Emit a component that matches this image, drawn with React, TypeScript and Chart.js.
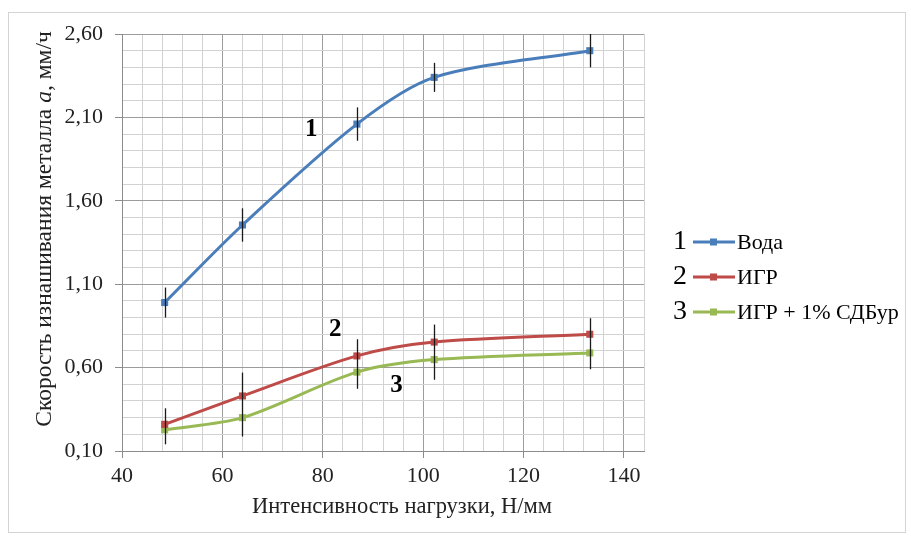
import React, { useEffect, useRef } from 'react';
import { Chart, registerables } from 'chart.js';

Chart.register(...registerables);

// ---- data ----
const loads = [48.5, 64, 86.8, 102.2, 133.2];
const waterRate = [0.99, 1.455, 2.06, 2.34, 2.5];
const igrRate = [0.26, 0.43, 0.67, 0.753, 0.8];
const igrSdbRate = [0.227, 0.3, 0.573, 0.648, 0.688];
const waterErr = [0.09, 0.1, 0.1, 0.087, 0.1];
const lowerErrLow = [0.14, 0.187, 0.473, 0.527, 0.59];
const lowerErrHigh = [0.356, 0.57, 0.77, 0.858, 0.896];

const seriesNames = ['Вода', 'ИГР', 'ИГР + 1% СДБур'];
const seriesNumbers = ['1', '2', '3'];
const seriesColors = ['#4A7EBB', '#BE4B48', '#98B954'];

const xTickLabels = [40, 60, 80, 100, 120, 140];
const yTickLabels = ['0,10', '0,60', '1,10', '1,60', '2,10', '2,60'];

const curveLabelText = ['1', '2', '3'];
const curveLabelX = [77.7, 82.5, 94.7];
const curveLabelY = [2.03, 0.83, 0.49];

const xTitle = 'Интенсивность нагрузки, Н/мм';
const yTitleParts = ['Скорость изнашивания металла ', 'a', ', мм/ч'];

const SERIF = '"Liberation Serif", "Times New Roman", serif';

const X_MIN = 40;
const X_MAX = 144;
const X_MINOR = 4;
const Y_MIN = 0.1;
const Y_MAX = 2.6;
const Y_MINOR = 0.1;

const isMajorX = (v: number) => xTickLabels.some((t) => Math.abs(t - v) < 1e-6);
const yMajorIndex = (v: number) =>
  yTickLabels.findIndex((t) => Math.abs(parseFloat(t.replace(',', '.')) - v) < 1e-6);

const framePlugin = {
  id: 'frame',
  beforeDraw(chart: any) {
    const c = chart.ctx;
    c.save();
    c.fillStyle = '#ffffff';
    c.fillRect(0, 0, chart.width, chart.height);
    c.strokeStyle = '#d4d4d4';
    c.lineWidth = 1;
    c.strokeRect(8.5, 12.5, 897, 520);
    c.restore();
  },
};

const errorBarPlugin = {
  id: 'errorBars',
  afterDatasetsDraw(chart: any) {
    const c = chart.ctx;
    const xs = chart.scales.x;
    const ys = chart.scales.y;
    c.save();
    c.strokeStyle = '#1a1a1a';
    c.lineWidth = 1.3;
    loads.forEach((x, i) => {
      const px = Math.round(xs.getPixelForValue(x)) + 0.5;
      c.beginPath();
      c.moveTo(px, ys.getPixelForValue(waterRate[i] + waterErr[i]));
      c.lineTo(px, ys.getPixelForValue(waterRate[i] - waterErr[i]));
      c.stroke();
      c.beginPath();
      c.moveTo(px, ys.getPixelForValue(lowerErrHigh[i]));
      c.lineTo(px, ys.getPixelForValue(lowerErrLow[i]));
      c.stroke();
    });
    c.restore();
  },
};

const annotationPlugin = {
  id: 'annotations',
  afterDraw(chart: any) {
    const c = chart.ctx;
    const xs = chart.scales.x;
    const ys = chart.scales.y;
    c.save();
    // curve numbers
    c.fillStyle = '#000';
    c.font = `bold 25px ${SERIF}`;
    c.textAlign = 'center';
    c.textBaseline = 'middle';
    curveLabelText.forEach((t, i) => {
      c.fillText(t, xs.getPixelForValue(curveLabelX[i]), ys.getPixelForValue(curveLabelY[i]));
    });

    // x title
    c.font = `22.5px ${SERIF}`;
    c.fillStyle = '#222';
    c.fillText(xTitle, 402, 507);

    // y title (rotated, italic "a")
    c.translate(45, 229);
    c.rotate(-Math.PI / 2);
    const fonts = [`23.5px ${SERIF}`, `italic 23.5px ${SERIF}`, `23.5px ${SERIF}`];
    let total = 0;
    const widths = yTitleParts.map((p, i) => {
      c.font = fonts[i];
      const w = c.measureText(p).width;
      total += w;
      return w;
    });
    let pos = -total / 2;
    c.textAlign = 'left';
    yTitleParts.forEach((p, i) => {
      c.font = fonts[i];
      c.fillText(p, pos, 0);
      pos += widths[i];
    });
    c.setTransform(1, 0, 0, 1, 0, 0);

    // legend
    c.textBaseline = 'middle';
    seriesNames.forEach((name, i) => {
      const y = 242 + 35 * i;
      c.fillStyle = '#000';
      c.font = `28px ${SERIF}`;
      c.textAlign = 'center';
      c.fillText(seriesNumbers[i], 680, y);
      c.strokeStyle = seriesColors[i];
      c.lineWidth = 3;
      c.beginPath();
      c.moveTo(693, y);
      c.lineTo(735, y);
      c.stroke();
      c.fillStyle = seriesColors[i];
      c.fillRect(710, y - 3.5, 7, 7);
      c.fillStyle = '#000';
      c.font = `22px ${SERIF}`;
      c.textAlign = 'left';
      c.fillText(name, 737, y + 1);
    });
    c.restore();
  },
};

export default function App() {
  const ref = useRef<HTMLCanvasElement | null>(null);

  useEffect(() => {
    if (!ref.current) return;
    const seriesValues = [waterRate, igrRate, igrSdbRate];
    const chart = new Chart(ref.current, {
      type: 'line',
      data: {
        datasets: seriesNames.map((name, si) => ({
          label: name,
          data: loads.map((x, i) => ({ x, y: seriesValues[si][i] })),
          borderColor: seriesColors[si],
          backgroundColor: seriesColors[si],
          borderWidth: 3,
          tension: 0.3,
          pointStyle: 'rect',
          pointRadius: 5,
          pointBorderWidth: 0,
          pointBackgroundColor: seriesColors[si],
          fill: false,
        })),
      },
      options: {
        responsive: false,
        animation: false,
        events: [],
        layout: { padding: { left: 0, top: 34, right: 911 - 644, bottom: 0 } },
        plugins: { legend: { display: false }, tooltip: { enabled: false } },
        scales: {
          x: {
            type: 'linear',
            min: X_MIN,
            max: X_MAX,
            afterBuildTicks(scale: any) {
              const t = [];
              for (let v = X_MIN; v <= X_MAX + 1e-9; v += X_MINOR) t.push({ value: v });
              scale.ticks = t;
            },
            afterFit(scale: any) {
              scale.height = 89;
            },
            ticks: {
              autoSkip: false,
              maxRotation: 0,
              padding: 5,
              color: '#222',
              font: { family: SERIF, size: 22 },
              callback: (v: any) => (isMajorX(Number(v)) ? String(v) : ''),
            },
            grid: {
              color: (ctx: any) => (isMajorX(ctx.tick?.value) ? '#9c9c9c' : '#d2d2d2'),
              tickColor: (ctx: any) => (isMajorX(ctx.tick?.value) ? '#8c8c8c' : 'rgba(0,0,0,0)'),
              tickLength: 7,
              lineWidth: 1,
            },
            border: { color: '#8c8c8c', width: 1 },
          },
          y: {
            type: 'linear',
            min: Y_MIN,
            max: Y_MAX,
            afterBuildTicks(scale: any) {
              const t = [];
              const n = Math.round((Y_MAX - Y_MIN) / Y_MINOR);
              for (let k = 0; k <= n; k++) t.push({ value: Math.round((Y_MIN + k * Y_MINOR) * 100) / 100 });
              scale.ticks = t;
            },
            afterFit(scale: any) {
              scale.width = 122;
            },
            ticks: {
              autoSkip: false,
              padding: 12,
              color: '#222',
              font: { family: SERIF, size: 22 },
              callback: (v: any) => {
                const k = yMajorIndex(Number(v));
                return k >= 0 ? yTickLabels[k] : '';
              },
            },
            grid: {
              color: (ctx: any) => (yMajorIndex(ctx.tick?.value) >= 0 ? '#9c9c9c' : '#d2d2d2'),
              tickColor: (ctx: any) => (yMajorIndex(ctx.tick?.value) >= 0 ? '#8c8c8c' : 'rgba(0,0,0,0)'),
              tickLength: 7,
              lineWidth: 1,
            },
            border: { color: '#8c8c8c', width: 1 },
          },
        },
      },
      plugins: [framePlugin, errorBarPlugin, annotationPlugin],
    } as any);
    return () => chart.destroy();
  }, []);

  return (
    <div style={{ position: 'absolute', left: 0, top: 0, width: 911, height: 540 }}>
      <canvas ref={ref} width={911} height={540} style={{ display: 'block' }} />
    </div>
  );
}
